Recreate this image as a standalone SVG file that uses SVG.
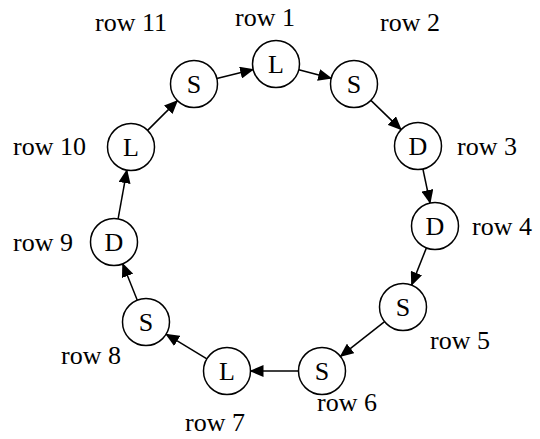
<svg xmlns="http://www.w3.org/2000/svg" width="540" height="439" viewBox="0 0 540 439">
<style>
.n circle{fill:#fff;stroke:#000;stroke-width:1.5}
.n text{font-family:"Liberation Serif","Times New Roman",serif;font-size:26px;text-anchor:middle;fill:#000}
.lbl{font-family:"Liberation Serif","Times New Roman",serif;font-size:26px;fill:#000}
.e line{stroke:#000;stroke-width:1.5;marker-end:url(#ah)}
</style>
<defs>
<marker id="ah" markerUnits="userSpaceOnUse" markerWidth="14" markerHeight="12" refX="13" refY="6" orient="auto">
<path d="M0,0 L14,6 L0,12 z" fill="#000"/>
</marker>
</defs>
<rect width="540" height="439" fill="#fff"/>
<g id="connectors" class="e">
<line x1="298.8" y1="69.8" x2="331.2" y2="78.2"/>
<line x1="370.9" y1="100.4" x2="401.1" y2="129.6"/>
<line x1="422.9" y1="169" x2="430.1" y2="203"/>
<line x1="426.4" y1="247.9" x2="411.6" y2="285.1"/>
<line x1="384.6" y1="321.6" x2="340.4" y2="356.4"/>
<line x1="298.5" y1="371" x2="250.5" y2="371"/>
<line x1="206.9" y1="358.8" x2="166.1" y2="334.2"/>
<line x1="137.3" y1="300.2" x2="122.7" y2="263.8"/>
<line x1="118.1" y1="218.9" x2="126.9" y2="170.1"/>
<line x1="147.6" y1="130.4" x2="177.4" y2="100.6"/>
<line x1="216.8" y1="78.4" x2="253.2" y2="69.6"/>
</g>
<g id="row1" class="n"><circle cx="276" cy="64" r="23.5"/><text x="276" y="73">L</text></g>
<g id="row2" class="n"><circle cx="354" cy="84" r="23.5"/><text x="354" y="93">S</text></g>
<g id="row3" class="n"><circle cx="418" cy="146" r="23.5"/><text x="418" y="155">D</text></g>
<g id="row4" class="n"><circle cx="435" cy="226" r="23.5"/><text x="435" y="235">D</text></g>
<g id="row5" class="n"><circle cx="403" cy="307" r="23.5"/><text x="403" y="316">S</text></g>
<g id="row6" class="n"><circle cx="322" cy="371" r="23.5"/><text x="322" y="380">S</text></g>
<g id="row7" class="n"><circle cx="227" cy="371" r="23.5"/><text x="227" y="380">L</text></g>
<g id="row8" class="n"><circle cx="146" cy="322" r="23.5"/><text x="146" y="331">S</text></g>
<g id="row9" class="n"><circle cx="114" cy="242" r="23.5"/><text x="114" y="251">D</text></g>
<g id="row10" class="n"><circle cx="131" cy="147" r="23.5"/><text x="131" y="156">L</text></g>
<g id="row11" class="n"><circle cx="194" cy="84" r="23.5"/><text x="194" y="93">S</text></g>
<g id="labels">
<text class="lbl" x="235" y="26">row 1</text>
<text class="lbl" x="380" y="31">row 2</text>
<text class="lbl" x="457" y="155">row 3</text>
<text class="lbl" x="472" y="235">row 4</text>
<text class="lbl" x="430" y="349">row 5</text>
<text class="lbl" x="317" y="411">row 6</text>
<text class="lbl" x="185" y="431">row 7</text>
<text class="lbl" x="61" y="364">row 8</text>
<text class="lbl" x="13" y="251">row 9</text>
<text class="lbl" x="13" y="155">row 10</text>
<text class="lbl" x="95" y="31">row 11</text>
</g>
</svg>
